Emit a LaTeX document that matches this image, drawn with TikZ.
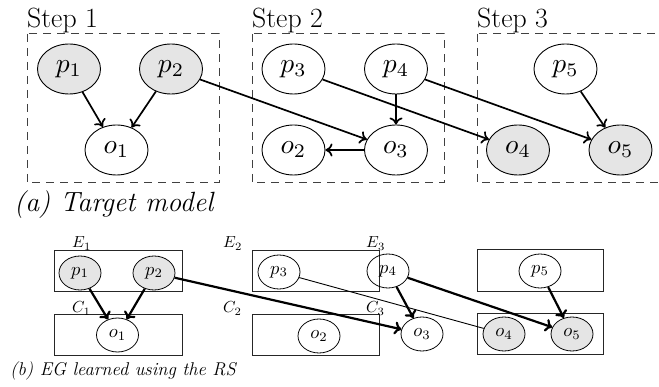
\documentclass[tikz,border=0pt]{standalone}
\usepackage{graphicx}
\usetikzlibrary{shapes.geometric,arrows.meta}
\newcommand\stepfont{\fontsize{27.8}{33}\selectfont}
\newcommand\egcapfont{\fontsize{18.5}{22}\selectfont}
% math set at 10pt and scaled up, so every size is exact
\newcommand\topmath[1]{\scalebox{2.75}{$#1$}}
\newcommand\egmath[1]{\scalebox{1.85}{$#1$}}
\newcommand\eglab[1]{\scalebox{1.6}{$#1$}}
\begin{document}
\begin{tikzpicture}[x=1pt,y=-1pt,
  var/.style={ellipse,draw=black,line width=0.9pt,inner sep=0pt,
              minimum width=63pt,minimum height=50pt},
  egvar/.style={ellipse,draw=black,line width=0.8pt,inner sep=0pt,
              minimum width=42pt,minimum height=34pt},
  seen/.style={fill=black!10},
  stepbox/.style={draw=black!75,line width=1pt,dash pattern=on 8pt off 6pt},
  grpbox/.style={draw=black!85,line width=0.9pt},
  edge/.style={line width=1.7pt,-{Computer Modern Rightarrow[length=7pt,width=13pt]}},
  egedge/.style={line width=2.2pt,-{Computer Modern Rightarrow[length=7pt,width=13pt]}},
  weak/.style={line width=0.9pt},
  heading/.style={anchor=base west,inner sep=0pt,font=\stepfont},
  eglabel/.style={anchor=base west,inner sep=0pt},
]
\clip (0,0) rectangle (659,387);

% ---------- (a) target model ----------
\draw[stepbox] (27,34) rectangle (219,183);
\draw[stepbox] (252,34) rectangle (444,183);
\draw[stepbox] (477,34) rectangle (669,183);
\node[heading] (s1) at (27,28) {Step 1};
\node[heading] (s2) at (252,28) {Step 2};
\node[heading] (s3) at (477,28) {Step 3};

\node[var,seen] (tp1) at (69,69) {\topmath{p_1}};
\node[var,seen] (tp2) at (171,69) {\topmath{p_2}};
\node[var] (to1) at (116.5,150) {\topmath{o_1}};
\node[var] (tp3) at (293.5,69) {\topmath{p_3}};
\node[var] (tp4) at (396,69) {\topmath{p_4}};
\node[var] (to2) at (293.5,150) {\topmath{o_2}};
\node[var] (to3) at (396,150) {\topmath{o_3}};
\node[var] (tp5) at (565.5,69) {\topmath{p_5}};
\node[var,seen] (to4) at (518,150) {\topmath{o_4}};
\node[var,seen] (to5) at (620.5,150) {\topmath{o_5}};

\draw[edge] (tp1) -- (to1);
\draw[edge] (tp2) -- (to1);
\draw[edge] (tp2) -- (to3);
\draw[edge] (tp3) -- (to4);
\draw[edge] (tp4) -- (to3);
\draw[edge] (tp4) -- (to5);
\draw[edge] (to3) -- (to2);
\draw[edge] (tp5) -- (to5);

\node[anchor=base west,inner sep=0pt,font=\stepfont\itshape] (capa) at (14,212) {(a) Target model};

% ---------- (b) learned graph ----------
\draw[grpbox] (54,250) rectangle (182,291);
\draw[grpbox] (54,314) rectangle (182,355);
\draw[grpbox] (252,250) rectangle (379,291);
\draw[grpbox] (252,314) rectangle (379,355);
\draw[grpbox] (477,249) rectangle (603,291);
\draw[grpbox] (477,313) rectangle (603,354);

\node[eglabel] (e1) at (72,248) {\eglab{E_1}};
\node[eglabel] (c1) at (72,313) {\eglab{C_1}};
\node[eglabel] (e2) at (223,248) {\eglab{E_2}};
\node[eglabel] (c2) at (223,313) {\eglab{C_2}};
\node[eglabel] (e3) at (366,248) {\eglab{E_3}};
\node[eglabel] (c3) at (366,313) {\eglab{C_3}};

\node[egvar,seen] (bp1) at (80,273) {\egmath{p_1}};
\node[egvar,seen] (bp2) at (154,273) {\egmath{p_2}};
\node[egvar] (bo1) at (117.5,335) {\egmath{o_1}};
\node[egvar] (bp3) at (279,272) {\egmath{p_3}};
\node[egvar] (bp4) at (388,271) {\egmath{p_4}};
\node[egvar] (bo2) at (319,336) {\egmath{o_2}};
\node[egvar] (bo3) at (422,334) {\egmath{o_3}};
\node[egvar] (bp5) at (540,271) {\egmath{p_5}};
\node[egvar,seen] (bo4) at (504,334) {\egmath{o_4}};
\node[egvar,seen] (bo5) at (572,334) {\egmath{o_5}};

\draw[egedge] (bp1) -- (bo1);
\draw[egedge] (bp2) -- (bo1);
\draw[egedge] (bp2) -- (bo3);
\draw[weak] (bp3) -- (bo4);
\draw[egedge] (bp4) -- (bo3);
\draw[egedge] (bp4) -- (bo5);
\draw[egedge] (bp5) -- (bo5);

\node[anchor=base west,inner sep=0pt,font=\egcapfont\itshape] (capb) at (10,376) {(b) EG learned using the RS};
\end{tikzpicture}
\end{document}
